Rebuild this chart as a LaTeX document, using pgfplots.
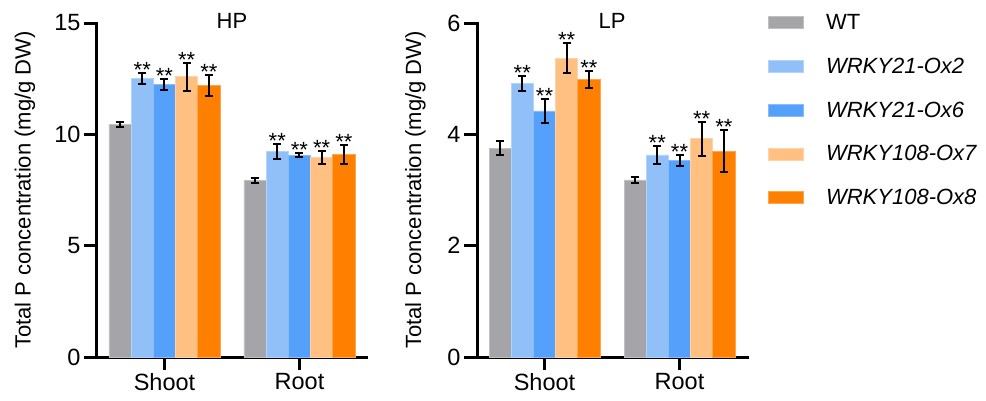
\documentclass[border=0pt]{standalone}
\usepackage{pgfplots}
\pgfplotsset{compat=1.18}
\usepackage{pgfplotstable}
\usepackage{fontspec}
\setmainfont{Liberation Sans}

\definecolor{cWT}{HTML}{A5A4A9}
\definecolor{cA}{HTML}{91C0F9}
\definecolor{cB}{HTML}{55A0FB}
\definecolor{cC}{HTML}{FFC081}
\definecolor{cD}{HTML}{FF8000}

\newcommand{\bigfont}{\fontsize{22}{26}\selectfont}
\newcommand{\tickfont}{\fontsize{23.5}{27}\selectfont}

% HP data
\pgfplotstableread{
x y e
0 10.44 0.12
1 7.92 0.10
}\HPWT
\pgfplotstableread{
x y e
0 12.50 0.25
1 9.22 0.34
}\HPA
\pgfplotstableread{
x y e
0 12.24 0.23
1 9.07 0.10
}\HPB
\pgfplotstableread{
x y e
0 12.58 0.64
1 8.97 0.28
}\HPC
\pgfplotstableread{
x y e
0 12.21 0.47
1 9.09 0.42
}\HPD
% LP data
\pgfplotstableread{
x y e
0 3.75 0.13
1 3.18 0.05
}\LPWT
\pgfplotstableread{
x y e
0 4.91 0.14
1 3.63 0.16
}\LPA
\pgfplotstableread{
x y e
0 4.42 0.21
1 3.53 0.09
}\LPB
\pgfplotstableread{
x y e
0 5.37 0.27
1 3.92 0.31
}\LPC
\pgfplotstableread{
x y e
0 4.99 0.15
1 3.70 0.37
}\LPD

\pgfplotsset{
  myaxis/.style={
    scale only axis, width=270pt, height=334pt,
    anchor=south west,
    axis lines=left,
    axis line style={-, line width=3pt, line cap=rect, black},
    xmin=-0.5, xmax=1.5, ymin=0,
    xtick={0,1}, xticklabels={Shoot,Root},
    tick align=outside, major tick length=13pt,
    tick style={line width=3pt, black},
    ybar, bar width=22.2pt,
    tick label style={font=\tickfont},
    /pgf/number format/assume math mode=true,
    title style={font=\bigfont, at={(axis description cs:0.5,1)}, anchor=center, yshift=-4pt},
    label style={font=\bigfont},
    clip=false,
  },
  mybar/.style={fill=#1, draw=#1!70!white, line width=0.8pt,
    /pgfplots/error bars/y dir=both,
    /pgfplots/error bars/y explicit,
    /pgfplots/error bars/error bar style={line width=2pt, black},
    /pgfplots/error bars/error mark options={rotate=90, mark size=4pt, line width=2pt, black}},
  star/.style={
    visualization depends on={\thisrow{e} \as \myerr},
    nodes near coords={**},
    every node near coord/.append style={anchor=base, yshift=\myerr*#1-4.5pt, font=\bigfont, text=black, inner sep=0pt}},
}

\begin{document}
\begin{tikzpicture}
\useasboundingbox (0,0) rectangle (986pt,400pt);
\begin{axis}[myaxis, at={(97pt,43pt)}, ymax=15, ytick={0,5,10,15},
  title={HP}, ylabel={Total P concentration (mg/g DW)},
  ylabel style={at={(axis description cs:-0.267,0.5)}, anchor=center}]
\addplot[mybar=cWT, bar shift=-44.4pt] table[x=x,y=y,y error=e]{\HPWT};
\addplot[mybar=cA, bar shift=-22.2pt, star=22.27pt] table[x=x,y=y,y error=e]{\HPA};
\addplot[mybar=cB, bar shift=0pt, star=22.27pt] table[x=x,y=y,y error=e]{\HPB};
\addplot[mybar=cC, bar shift=22.2pt, star=22.27pt] table[x=x,y=y,y error=e]{\HPC};
\addplot[mybar=cD, bar shift=44.4pt, star=22.27pt] table[x=x,y=y,y error=e]{\HPD};
\end{axis}
\begin{axis}[myaxis, at={(477pt,43pt)}, ymax=6, ytick={0,2,4,6},
  title={LP}, ylabel={Total P concentration (mg/g DW)},
  ylabel style={at={(axis description cs:-0.228,0.5)}, anchor=center},
  legend image code/.code={\fill[#1] (0pt,-6pt) rectangle (35pt,6pt); \path (57pt,0pt);},
  legend style={draw=none, fill=none, at={(axis description cs:1.078,1.027)}, anchor=north west,
    inner sep=0pt, font=\bigfont, row sep=27pt, nodes={inner sep=0pt}},
  legend cell align=left]
\addplot[mybar=cWT, bar shift=-44.4pt] table[x=x,y=y,y error=e]{\LPWT};
\addplot[mybar=cA, bar shift=-22.2pt, star=55.67pt] table[x=x,y=y,y error=e]{\LPA};
\addplot[mybar=cB, bar shift=0pt, star=55.67pt] table[x=x,y=y,y error=e]{\LPB};
\addplot[mybar=cC, bar shift=22.2pt, star=55.67pt] table[x=x,y=y,y error=e]{\LPC};
\addplot[mybar=cD, bar shift=44.4pt, star=55.67pt] table[x=x,y=y,y error=e]{\LPD};
\legend{WT, \textit{WRKY21-Ox2}, \textit{WRKY21-Ox6}, \textit{WRKY108-Ox7}, \textit{WRKY108-Ox8}}
\end{axis}
\end{tikzpicture}
\end{document}
